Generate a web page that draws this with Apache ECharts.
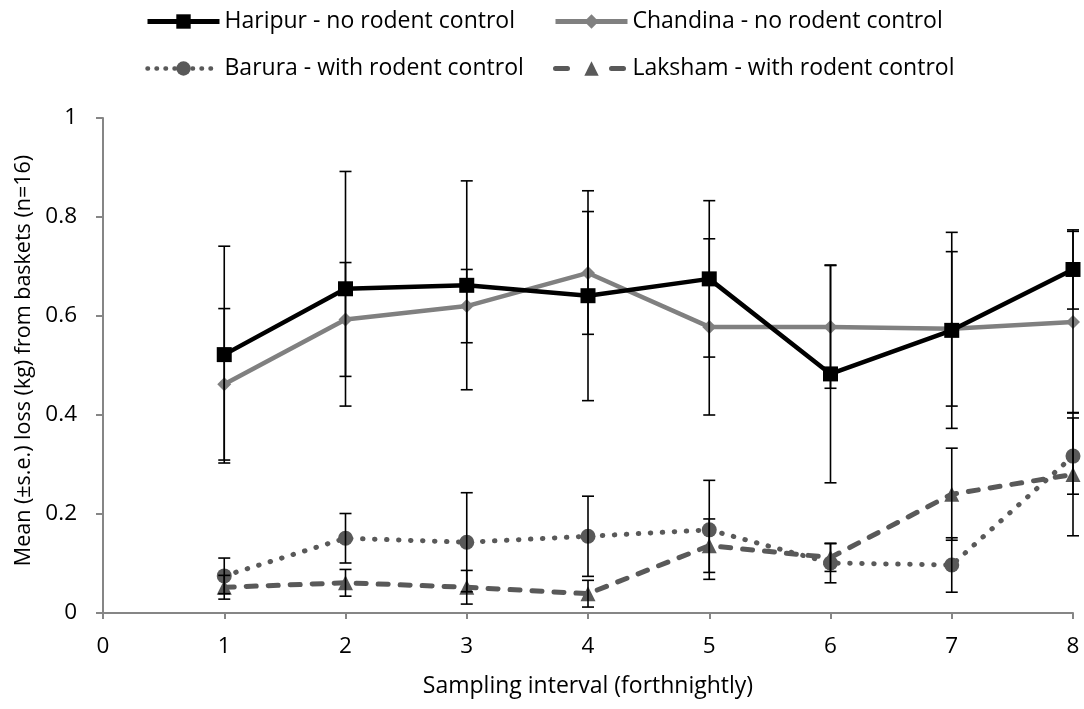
<!DOCTYPE html>
<html>
<head>
<meta charset="utf-8">
<script src="https://cdn.jsdelivr.net/npm/echarts@6/dist/echarts.min.js"></script>
<style>
  html, body { margin: 0; padding: 0; background: #fff; }
  #chart { width: 1084px; height: 709px; }
</style>
</head>
<body>
<div id="chart"></div>
<script>
// sampling intervals (forthnightly)
var intervals = [1, 2, 3, 4, 5, 6, 7, 8]

// mean loss (kg) and standard errors
var haripur = [0.522, 0.655, 0.662, 0.641, 0.675, 0.483, 0.571, 0.694]
var haripurSe = [0.219, 0.237, 0.211, 0.212, 0.158, 0.220, 0.198, 0.080]
var chandina = [0.462, 0.593, 0.620, 0.687, 0.578, 0.578, 0.574, 0.588]
var chandinaSe = [0.153, 0.115, 0.074, 0.124, 0.178, 0.124, 0.156, 0.183]
var barura = [0.075, 0.151, 0.143, 0.155, 0.168, 0.101, 0.097, 0.317]
var baruraSe = [0.036, 0.050, 0.100, 0.081, 0.100, 0.040, 0.055, 0.077]
var laksham = [0.052, 0.061, 0.052, 0.039, 0.136, 0.112, 0.240, 0.280]
var lakshamSe = [0.024, 0.027, 0.034, 0.027, 0.054, 0.028, 0.093, 0.124]

var names = [
  'Haripur - no rodent control',
  'Chandina - no rodent control',
  'Barura - with rodent control',
  'Laksham - with rodent control'
]

var font = '"Open Sans", Lato, sans-serif'

function points(vals) {
  return intervals.map(function (x, i) { return [x, vals[i]] })
}

function errRows(vals, se) {
  return intervals.map(function (x, i) { return [x, vals[i] - se[i], vals[i] + se[i]] })
}

// whiskers drawn as a custom series: [x, low, high]
function errorBars(name, vals, se) {
  return {
    type: 'custom',
    name: name + ' s.e.',
    z: 5,
    silent: true,
    data: errRows(vals, se),
    renderItem: function (params, api) {
      var lo = api.coord([api.value(0), api.value(1)])
      var hi = api.coord([api.value(0), api.value(2)])
      var half = 6
      var style = { stroke: '#000', lineWidth: 1.6 }
      return {
        type: 'group',
        children: [
          { type: 'line', shape: { x1: lo[0], y1: lo[1], x2: hi[0], y2: hi[1] }, style: style },
          { type: 'line', shape: { x1: lo[0] - half, y1: lo[1], x2: lo[0] + half, y2: lo[1] }, style: style },
          { type: 'line', shape: { x1: hi[0] - half, y1: hi[1], x2: hi[0] + half, y2: hi[1] }, style: style }
        ]
      }
    }
  }
}

var legendBase = {
  orient: 'vertical',
  top: 5,
  itemWidth: 72,
  itemHeight: 18,
  itemGap: 24,
  lineStyle: { width: 5 },
  textStyle: { fontFamily: font, fontSize: 23, color: '#000' }
}

var chart = echarts.init(document.getElementById('chart'))
chart.setOption({
  animation: false,
  backgroundColor: '#fff',
  legend: [
    Object.assign({}, legendBase, {
      left: 140,
      data: [
        names[0],
        { name: names[2], lineStyle: { width: 4.5, type: [0.5, 8.5], cap: 'round' } }
      ]
    }),
    Object.assign({}, legendBase, {
      left: 548,
      data: [
        names[1],
        { name: names[3], lineStyle: { width: 5, type: [12, 44], cap: 'round' } }
      ]
    })
  ],
  grid: { left: 103, right: 11, top: 118, bottom: 96, containLabel: false },
  xAxis: {
    type: 'value',
    min: 0,
    max: 8,
    interval: 1,
    name: 'Sampling interval (forthnightly)',
    nameLocation: 'middle',
    nameGap: 62,
    nameTextStyle: { fontFamily: font, fontSize: 23, color: '#000' },
    axisLine: { lineStyle: { color: '#868686', width: 2 } },
    axisTick: { length: 6, lineStyle: { color: '#868686', width: 2 } },
    axisLabel: { fontFamily: font, fontSize: 22.5, color: '#000', margin: 22 },
    splitLine: { show: false }
  },
  yAxis: {
    type: 'value',
    min: 0,
    max: 1,
    interval: 0.2,
    name: 'Mean (\u00b1s.e.) loss (kg) from baskets (n=16)',
    nameLocation: 'middle',
    nameGap: 68,
    nameTextStyle: { fontFamily: font, fontSize: 21.5, color: '#000', padding: [0, 0, 0, 10] },
    axisLine: { show: true, lineStyle: { color: '#868686', width: 2 } },
    axisTick: { show: true, length: 7, lineStyle: { color: '#868686', width: 2 } },
    axisLabel: { fontFamily: font, fontSize: 22.5, color: '#000', margin: 26 },
    splitLine: { show: false }
  },
  series: [
    {
      name: names[0],
      type: 'line',
      data: points(haripur),
      symbol: 'rect',
      symbolSize: 15,
      z: 4,
      itemStyle: { color: '#000' },
      lineStyle: { color: '#000', width: 4.5 }
    },
    {
      name: names[1],
      type: 'line',
      data: points(chandina),
      symbol: 'diamond',
      symbolSize: 14,
      z: 3,
      itemStyle: { color: '#808080' },
      lineStyle: { color: '#808080', width: 4.5 }
    },
    {
      name: names[2],
      type: 'line',
      data: points(barura),
      symbol: 'circle',
      symbolSize: 15,
      z: 3,
      itemStyle: { color: '#595959' },
      lineStyle: { color: '#595959', width: 5, type: [0.5, 11.5], cap: 'round' }
    },
    {
      name: names[3],
      type: 'line',
      data: points(laksham),
      symbol: 'triangle',
      symbolSize: 15,
      z: 3,
      itemStyle: { color: '#595959' },
      lineStyle: { color: '#595959', width: 5, type: [10, 12], cap: 'round' }
    },
    errorBars(names[0], haripur, haripurSe),
    errorBars(names[1], chandina, chandinaSe),
    errorBars(names[2], barura, baruraSe),
    errorBars(names[3], laksham, lakshamSe)
  ]
})
</script>
</body>
</html>
